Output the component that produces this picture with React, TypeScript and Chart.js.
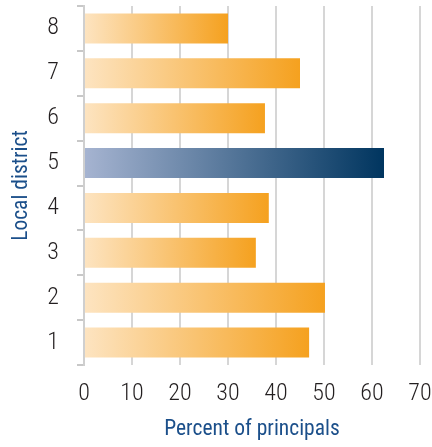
import React, { useEffect, useRef } from "react";
import { Chart, registerables } from "chart.js";

Chart.register(...registerables);

const districts = ["8", "7", "6", "5", "4", "3", "2", "1"];
const percents = [30, 45, 37.7, 62.5, 38.5, 35.8, 50.2, 46.9];
const highlighted = "5";
const xTicks = [0, 10, 20, 30, 40, 50, 60, 70];

const FONT = "'Roboto Condensed', 'Liberation Sans Narrow', sans-serif";

export default function App() {
  const ref = useRef<HTMLCanvasElement>(null);
  useEffect(() => {
    if (!ref.current) return;
    const chart = new Chart(ref.current, {
      type: "bar",
      data: {
        labels: districts,
        datasets: [
          {
            data: percents,
            backgroundColor: (c: any) => {
              const ch = c.chart;
              const isHi = districts[c.dataIndex] === highlighted;
              const from = isHi ? "#a6b4d1" : "#fde4c1";
              const to = isHi ? "#00355f" : "#f5a11f";
              const xs = ch.scales && ch.scales.x;
              if (!ch.chartArea || !xs || c.raw == null) return to;
              const x0 = xs.getPixelForValue(0);
              const x1 = xs.getPixelForValue(c.raw);
              const g = ch.ctx.createLinearGradient(x0, 0, x1, 0);
              g.addColorStop(0, from);
              g.addColorStop(1, to);
              return g;
            },
            borderWidth: 0,
            categoryPercentage: 1,
            barPercentage: 0.67,
          },
        ],
      },
      options: {
        indexAxis: "y",
        animation: false,
        responsive: false,
        layout: { padding: { top: 6, right: 12, left: 0, bottom: 0 } },
        plugins: { legend: { display: false }, tooltip: { enabled: false } },
        scales: {
          x: {
            min: 0,
            max: 70,
            afterBuildTicks: (s: any) => {
              s.ticks = xTicks.map((v) => ({ value: v }));
            },
            afterFit: (s: any) => {
              s.height = 82;
              s.paddingLeft = 0;
              s.paddingRight = 0;
            },
            grid: { color: "#d6d6d6", lineWidth: 2, drawTicks: false },
            border: { display: false },
            ticks: {
              color: "#231f20",
              font: { family: FONT, size: 24, weight: "300" },
              padding: 15,
              maxRotation: 0,
            },
            title: {
              display: true,
              text: "Percent of principals",
              color: "#1b4f8a",
              font: { family: FONT, size: 21.5, weight: "400" },
              padding: { top: 0, bottom: 4 },
            },
          },
          y: {
            afterFit: (s: any) => {
              s.width = 84;
              s.paddingTop = 0;
              s.paddingBottom = 0;
            },
            grid: {
              offset: true,
              drawOnChartArea: false,
              drawTicks: true,
              tickLength: 7,
              color: "#c8c8c8",
              lineWidth: 2,
            },
            border: { display: true, color: "#cfcfcf", width: 2 },
            ticks: {
              color: "#231f20",
              font: { family: FONT, size: 24, weight: "300" },
              padding: 18,
            },
            title: {
              display: true,
              text: "Local district",
              color: "#1b4f8a",
              font: { family: FONT, size: 21.5, weight: "400" },
              padding: { top: 9, bottom: 0 },
            },
          },
        },
      },
    });
    return () => chart.destroy();
  }, []);
  return (
    <div style={{ position: "absolute", left: 0, top: 0, width: 432, height: 447 }}>
      <canvas ref={ref} width={432} height={447} style={{ width: 432, height: 447 }} />
    </div>
  );
}
